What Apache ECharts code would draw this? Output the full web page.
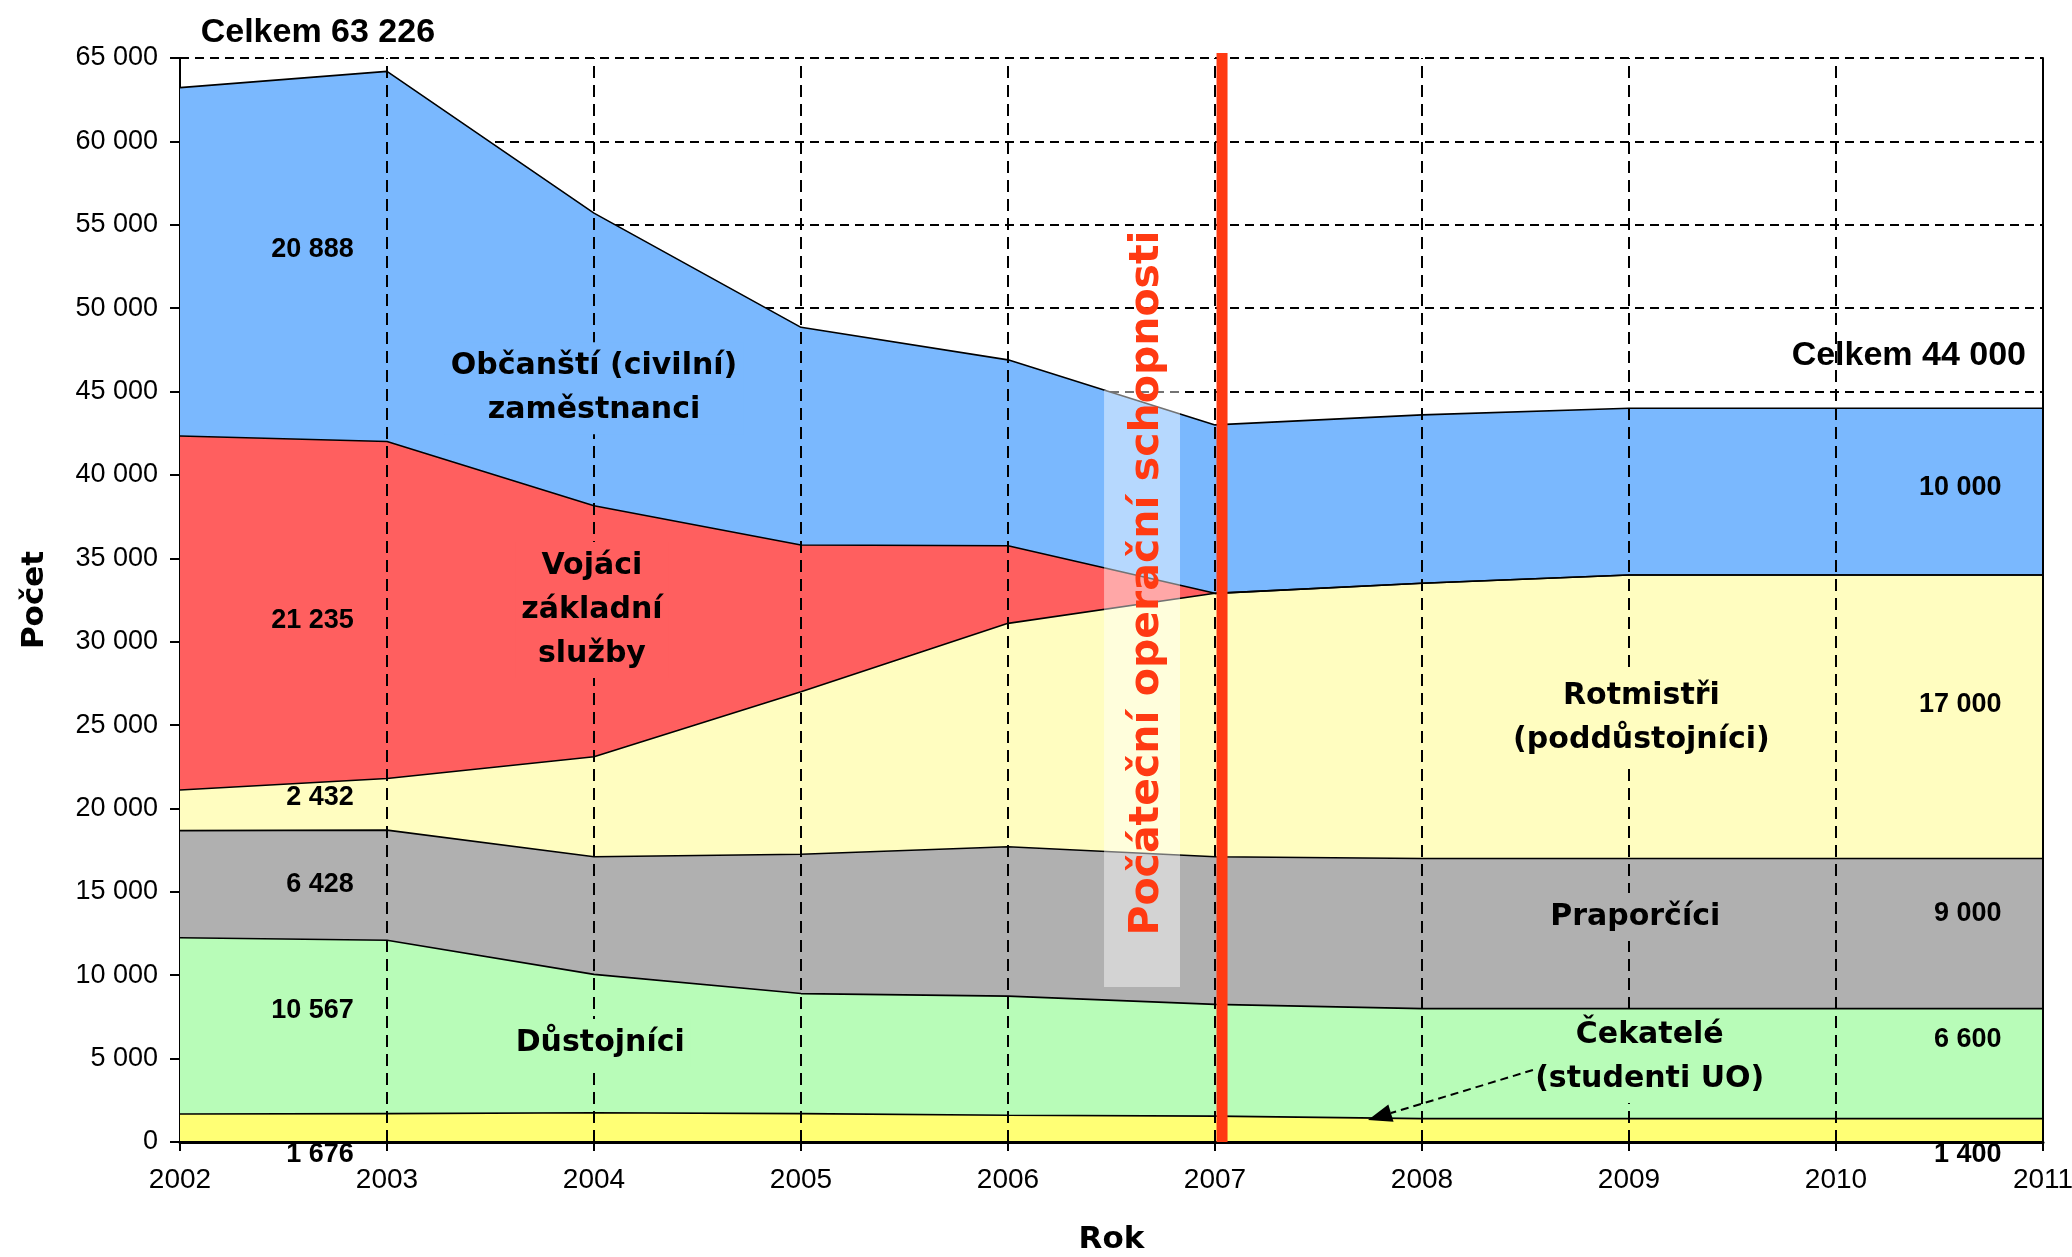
<!DOCTYPE html>
<html><head><meta charset="utf-8">
<script src="https://cdn.jsdelivr.net/npm/echarts@6/dist/echarts.min.js"></script>
<style>html,body{margin:0;padding:0;background:#fff}#c{width:2072px;height:1257px}</style>
</head><body><div id="c"></div>
<script>
// ---- data ----
const years = ['2002','2003','2004','2005','2006','2007','2008','2009','2010','2011'];
const cekatele   = [1676, 1700, 1750, 1700, 1600, 1550, 1400, 1400, 1400, 1400];
const dustojnici = [10567, 10400, 8300, 7200, 7150, 6700, 6600, 6600, 6600, 6600];
const praporcici = [6428, 6600, 7050, 8350, 8950, 8850, 9000, 9000, 9000, 9000];
const rotmistri  = [2432, 3100, 6000, 9750, 13400, 15800, 16500, 17000, 17000, 17000];
const vojaci     = [21235, 20200, 15050, 8800, 4650, 0, 0, 0, 0, 0];
const obcanske   = [20888, 22200, 17550, 13050, 11150, 10100, 10100, 10000, 10000, 10000];
const yTicks = {min: 0, max: 65000, step: 5000};

// ---- styles ----
const C = {
  cek: '#FFFF75', dus: '#B8FCB8', pra: '#B0B0B0', rot: '#FFFDC0', voj: '#FF5F5F', obc: '#7AB8FE',
  red: '#FF3A12'
};
const LBL_FONT = 'bold 30px "DejaVu Sans", Verdana, sans-serif';
const NUM_FONT = 'bold 27px "Liberation Sans", Arial, sans-serif';
const TOT_FONT = 'bold 34px "Liberation Sans Narrow", "Arial Narrow", "Liberation Sans", Arial, sans-serif';
const dash = [9, 6];

function fmt(v){ return String(v).replace(/\B(?=(\d{3})+(?!\d))/g, ' '); }

const chart = echarts.init(document.getElementById('c'), null, {renderer: 'canvas'});

function area(name, data, color){
  return {
    name, type: 'line', stack: 'total', data, symbol: 'none', showSymbol: false,
    lineStyle: {color: '#000', width: 1.6}, areaStyle: {color, opacity: 1},
    emphasis: {disabled: true}, animation: false
  };
}

chart.setOption({
  animation: false,
  backgroundColor: '#fff',
  grid: {left: 180, right: 29, top: 58, bottom: 115, containLabel: false, outerBoundsMode: 'none'},
  xAxis: [{
    type: 'category', data: years, boundaryGap: false, z: 3,
    name: 'Rok', nameLocation: 'middle', nameGap: 82,
    nameTextStyle: {fontSize: 31, fontWeight: 'bold', fontFamily: '"DejaVu Sans", Verdana, sans-serif', color: '#000'},
    axisLine: {show: true, lineStyle: {color: '#000', width: 3}},
    axisTick: {show: true, length: 9, lineStyle: {color: '#000', width: 2}},
    axisLabel: {interval: 0, color: '#000', fontSize: 28, fontFamily: '"Liberation Sans", Arial, sans-serif', margin: 24},
    splitLine: {show: false}
  }, {
    type: 'category', data: years, boundaryGap: false, position: 'top', z: 3,
    axisLine: {show: true, lineStyle: {color: '#000', width: 2}},
    axisTick: {show: false}, axisLabel: {show: false}, splitLine: {show: false}
  }],
  yAxis: [{
    type: 'value', min: yTicks.min, max: yTicks.max, interval: yTicks.step,
    name: 'Počet', nameLocation: 'middle', nameGap: 130, nameRotate: 90,
    nameTextStyle: {fontSize: 31, fontWeight: 'bold', fontFamily: '"DejaVu Sans", Verdana, sans-serif', color: '#000'},
    axisLine: {show: true, lineStyle: {color: '#000', width: 2}},
    axisTick: {show: true, length: 10, lineStyle: {color: '#000', width: 2}},
    axisLabel: {color: '#000', fontSize: 27, fontFamily: '"Liberation Sans", Arial, sans-serif', margin: 22, formatter: fmt},
    splitLine: {show: true, lineStyle: {color: '#000', width: 2, type: dash}}
  }, {
    type: 'value', min: yTicks.min, max: yTicks.max, interval: yTicks.step, position: 'right', z: 3,
    axisLine: {show: true, lineStyle: {color: '#000', width: 2}},
    axisTick: {show: false}, axisLabel: {show: false}, splitLine: {show: false}
  }],
  series: [
    area('Čekatelé (studenti UO)', cekatele, C.cek),
    area('Důstojníci', dustojnici, C.dus),
    area('Praporčíci', praporcici, C.pra),
    area('Rotmistři (poddůstojníci)', rotmistri, C.rot),
    area('Vojáci základní služby', vojaci, C.voj),
    area('Občanští (civilní) zaměstnanci', obcanske, C.obc),
    {
      name: 'grid-x', type: 'line', data: [], z: 10, silent: true,
      markLine: {
        silent: true, symbol: ['none', 'none'], animation: false,
        label: {show: false},
        lineStyle: {color: '#000', width: 2, type: [12, 7]},
        data: years.slice(1, -1).map(y => ({xAxis: y}))
      }
    }
  ]
});

// helper: fractional year + value -> pixel
function px(yr, val){
  const i = yr - 2002;
  const i0 = Math.max(0, Math.min(years.length - 2, Math.floor(i)));
  const p0 = chart.convertToPixel({gridIndex: 0}, [i0, val]);
  const p1 = chart.convertToPixel({gridIndex: 0}, [i0 + 1, val]);
  return [p0[0] + (i - i0) * (p1[0] - p0[0]), p0[1]];
}

// ---- annotations (text positions in data space) ----
const areaLabels = [
  {t: 'Občanští (civilní)\nzaměstnanci', at: [2004.0, 45200], bg: C.obc},
  {t: 'Vojáci\nzákladní\nslužby', at: [2003.99, 31900], bg: C.voj},
  {t: 'Důstojníci', at: [2004.03, 5940], bg: C.dus},
  {t: 'Rotmistři\n(poddůstojníci)', at: [2009.06, 25400], bg: C.rot},
  {t: 'Praporčíci', at: [2009.03, 13490], bg: C.pra},
  {t: 'Čekatelé\n(studenti UO)', at: [2009.10, 5100], bg: C.dus}
];
const numLabels = [
  {t: '20 888', at: [2002.84, 53490]},
  {t: '21 235', at: [2002.84, 31240]},
  {t: '2 432', at: [2002.84, 20630]},
  {t: '6 428', at: [2002.84, 15410]},
  {t: '10 567', at: [2002.84, 7855]},
  {t: '1 676', at: [2002.84, -780]},
  {t: '10 000', at: [2010.80, 39220]},
  {t: '17 000', at: [2010.80, 26260]},
  {t: '9 000', at: [2010.80, 13670]},
  {t: '6 600', at: [2010.80, 6120]},
  {t: '1 400', at: [2010.80, -780]}
];

const g = [];
areaLabels.forEach(l => {
  const p = px(l.at[0], l.at[1]);
  g.push({type: 'text', x: p[0], y: p[1], z: 20, silent: true,
    style: {text: l.t, font: LBL_FONT, fill: '#000', align: 'center', verticalAlign: 'middle',
      lineHeight: 44, backgroundColor: l.bg, padding: [2, 6]}});
});
numLabels.forEach(l => {
  const p = px(l.at[0], l.at[1]);
  g.push({type: 'text', x: p[0], y: p[1], z: 20, silent: true,
    style: {text: l.t, font: NUM_FONT, fill: '#000', align: 'right', verticalAlign: 'middle'}});
});
let p = px(2002.10, 66500);
g.push({type: 'text', x: p[0], y: p[1], z: 20, silent: true,
  style: {text: 'Celkem 63 226', font: TOT_FONT, fill: '#000', align: 'left', verticalAlign: 'middle'}});
p = px(2010.918, 47130);
g.push({type: 'text', x: p[0], y: p[1], z: 20, silent: true,
  style: {text: 'Celkem 44 000', font: TOT_FONT, fill: '#000', align: 'right', verticalAlign: 'middle'}});

// hatched box behind rotated text
const b0 = px(2006.464, 45090), b1 = px(2006.831, 9294);
g.push({type: 'rect', z: 15, silent: true,
  shape: {x: b0[0], y: b0[1], width: b1[0] - b0[0], height: b1[1] - b0[1]},
  style: {fill: 'rgba(255,255,255,0.45)'}});
p = px(2006.671, 33520);
g.push({type: 'text', x: p[0], y: p[1], rotation: Math.PI / 2, z: 16, silent: true,
  style: {text: 'Počáteční operační schopnosti', font: 'bold 41px "DejaVu Sans", Verdana, sans-serif',
    fill: C.red, align: 'center', verticalAlign: 'middle'}});

// red vertical line
const r0 = px(2007.034, 65300), r1 = px(2007.034, 0);
g.push({type: 'line', z: 18, silent: true,
  shape: {x1: r0[0], y1: r0[1], x2: r1[0], y2: r1[1]},
  style: {stroke: C.red, lineWidth: 11}});

// arrow
const a0 = px(2008.536, 4317), a1 = px(2007.739, 1319);
const ang = Math.atan2(a1[1] - a0[1], a1[0] - a0[0]);
const L = 24, W = 9;
const bx = a1[0] - L * Math.cos(ang), by = a1[1] - L * Math.sin(ang);
g.push({type: 'line', z: 21, silent: true,
  shape: {x1: a0[0], y1: a0[1], x2: bx, y2: by},
  style: {stroke: '#000', lineWidth: 2, lineDash: [8, 5]}});
g.push({type: 'polygon', z: 21, silent: true,
  shape: {points: [a1, [bx + W * Math.sin(ang), by - W * Math.cos(ang)], [bx - W * Math.sin(ang), by + W * Math.cos(ang)]]},
  style: {fill: '#000'}});

chart.setOption({graphic: g});
</script>
</body></html>
